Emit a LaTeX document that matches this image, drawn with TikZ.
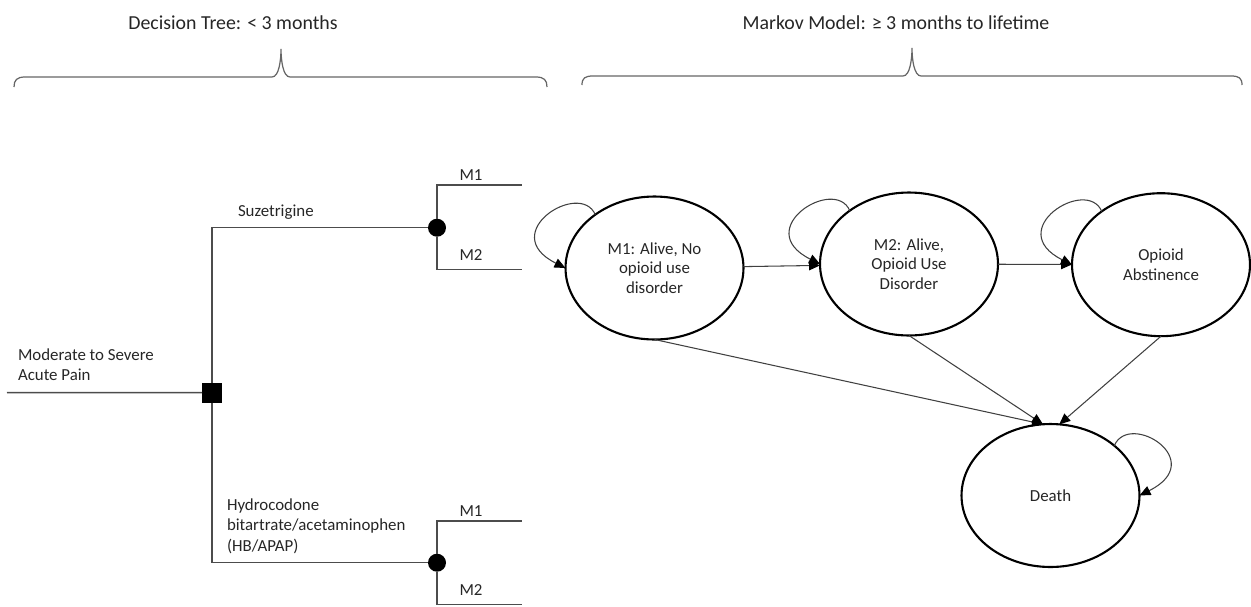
\documentclass[tikz,border=0pt]{standalone}
\usepackage{fontspec}
\setmainfont{Carlito}
\usetikzlibrary{arrows.meta,shapes.geometric}
\begin{document}
\begin{tikzpicture}[x=0.02cm,y=-0.02cm,inner sep=0pt,outer sep=0pt,
  every node/.style={text=black!85},
  branch/.style={draw=black!70,line width=0.85pt},
  bracket/.style={draw=black!60,line width=0.7pt},
  head/.style={font=\fontsize{11.3}{13}\selectfont,anchor=base},
  lab/.style={font=\fontsize{9.6}{11.6}\selectfont,align=left},
  decision/.style={rectangle,fill=black,minimum size=0.4cm},
  chance/.style={circle,fill=black,minimum size=0.36cm},
  state/.style={ellipse,draw=black,line width=1.2pt,minimum width=3.56cm,minimum height=2.86cm,align=center,font=\fontsize{9.6}{11}\selectfont},
  trans/.style={draw=black!75,line width=0.6pt,-{Triangle[length=2.2mm,width=1.9mm,color=black]}}]

\useasboundingbox (0,0) rectangle (1251,606);

% headers and braces
\node[head] (dthead) at (233,29) {Decision Tree: < 3 months};
\node[head] (mmhead) at (896,29) {Markov Model: ≥ 3 months to lifetime};
\draw[bracket] (14,87) .. controls (14,80) and (17,77) .. (25,77) -- (272,77) .. controls (279,77) and (281,60) .. (281,49)
  .. controls (281,60) and (283,77) .. (290,77) -- (536,77) .. controls (544,77) and (547,80) .. (547,87);
\draw[bracket] (582,85) .. controls (582,78) and (585,76) .. (593,76) -- (903,76) .. controls (910,76) and (912,59) .. (912,48)
  .. controls (912,59) and (914,76) .. (921,76) -- (1231,76) .. controls (1239,76) and (1242,78) .. (1242,85);

% decision tree
\node[decision] (dec) at (212,392.5) {};
\node[chance] (ch1) at (437,227.7) {};
\node[chance] (ch2) at (437,562.7) {};
\coordinate (root) at (7,392.7);
\coordinate (t1) at (522,185);
\coordinate (t2) at (522,269.3);
\coordinate (b1) at (522,521);
\coordinate (b2) at (522,604.5);

\draw[branch] (root) -- (dec);
\draw[branch] (dec) |- (ch1);
\draw[branch] (dec) |- (ch2);
\draw[branch] (ch1) |- node[lab,pos=.7,above=2.8pt] {M1} (t1);
\draw[branch] (ch1) |- node[lab,pos=.7,above=5pt] {M2} (t2);
\draw[branch] (ch2) |- node[lab,pos=.7,above=2.8pt] {M1} (b1);
\draw[branch] (ch2) |- node[lab,pos=.7,above=5pt] {M2} (b2);

\node[lab,anchor=south west] (pain) at (18,381) {Moderate to Severe\\Acute Pain};
\node[lab,anchor=base west] (suz) at (238,216) {Suzetrigine};
\node[lab,anchor=base west] (hyd) at (227,551) {Hydrocodone\\bitartrate/acetaminophen\\(HB/APAP)};

% markov model
\node[state] (m1) at (654.5,268) {M1: Alive, No\\opioid use\\disorder};
\node[state] (m2) at (909,264) {M2: Alive,\\Opioid Use\\Disorder};
\node[state] (oa) at (1161,264.7) {Opioid\\Abstinence};
\node[state] (death) at (1050.5,495.5) {Death};

\draw[trans] (m1) -- (m2);
\draw[trans] (m2) -- (oa);
\draw[trans] (m1.south) -- (death.96);
\draw[trans] (m2.south) -- (death.96);
\draw[trans] (oa.south) -- (death.83);
\draw[trans] (m1.138) .. controls +(-15,-35) and +(-70,-35) .. (m1.west);
\draw[trans] (m2.138) .. controls +(-15,-35) and +(-70,-35) .. (m2.west);
\draw[trans] (oa.138) .. controls +(-15,-35) and +(-70,-35) .. (oa.west);
\draw[trans] (death.38) .. controls +(15,-35) and +(70,-35) .. (death.east);

\end{tikzpicture}
\end{document}
